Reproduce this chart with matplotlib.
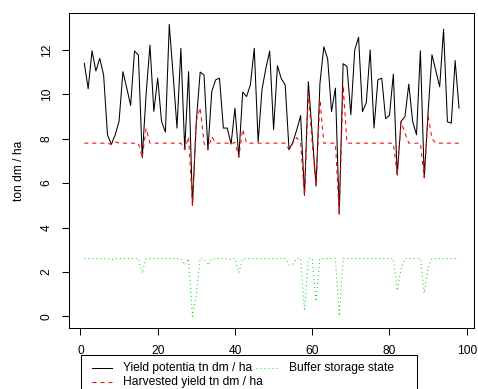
import matplotlib
matplotlib.use("Agg")
import matplotlib.pyplot as plt
from matplotlib.lines import Line2D
from matplotlib.patches import Rectangle

plt.rcParams['font.family'] = ['Liberation Sans', 'DejaVu Sans']
plt.rcParams['lines.scale_dashes'] = False

# ---- data ----
time_step = list(range(1, 99))

yield_potential = [
    11.40, 10.25, 11.96, 11.05, 11.62, 10.87, 8.18, 7.74, 8.18, 8.78,
    11.02, 10.28, 9.50, 11.95, 11.77, 7.14, 10.00, 12.22, 9.23, 10.73,
    8.78, 8.30, 13.15, 10.87, 8.48, 12.07, 7.51, 11.02, 5.00, 8.80,
    11.00, 10.87, 7.50, 10.13, 10.65, 10.73, 8.48, 8.48, 7.76, 9.38,
    7.17, 10.10, 9.90, 10.43, 12.07, 7.85, 10.21, 11.17, 11.95, 8.41,
    11.29, 10.70, 10.43, 7.51, 7.85, 8.40, 9.04, 5.45, 10.57, 8.20,
    5.87, 10.50, 12.14, 11.60, 9.22, 10.28, 4.60, 11.38, 11.26, 9.08,
    11.99, 12.57, 9.22, 9.62, 12.00, 8.48, 10.65, 10.73, 8.90, 9.06,
    10.91, 6.36, 8.78, 8.99, 10.46, 8.78, 8.18, 11.96, 6.24, 9.20,
    11.78, 11.06, 10.34, 12.93, 8.76, 8.70, 11.52, 9.38,
]

harvested_yield = [
    7.80, 7.80, 7.80, 7.80, 7.80, 7.80, 7.80, 7.74, 7.86, 7.80,
    7.80, 7.80, 7.80, 7.80, 7.80, 7.14, 8.46, 7.80, 7.80, 7.80,
    7.80, 7.80, 7.80, 7.80, 7.80, 7.80, 7.51, 8.09, 5.00, 8.80,
    9.40, 7.80, 7.50, 8.10, 7.80, 7.80, 7.80, 7.80, 7.76, 7.84,
    7.17, 8.43, 7.80, 7.80, 7.80, 7.80, 7.80, 7.80, 7.80, 7.80,
    7.80, 7.80, 7.80, 7.51, 7.80, 8.05, 7.80, 5.45, 10.05, 7.80,
    5.87, 9.75, 7.80, 7.80, 7.80, 7.80, 4.60, 10.40, 7.80, 7.80,
    7.80, 7.80, 7.80, 7.80, 7.80, 7.80, 7.80, 7.80, 7.80, 7.80,
    7.80, 6.36, 8.78, 8.26, 7.80, 7.80, 7.80, 7.80, 6.24, 9.05,
    8.00, 7.80, 7.80, 7.80, 7.80, 7.80, 7.80, 7.80,
]

buffer_state = [
    2.60, 2.60, 2.60, 2.60, 2.60, 2.60, 2.60, 2.54, 2.60, 2.60,
    2.60, 2.60, 2.60, 2.60, 2.60, 1.94, 2.60, 2.60, 2.60, 2.60,
    2.60, 2.60, 2.60, 2.60, 2.60, 2.60, 2.31, 2.60, 0.00, 1.00,
    2.60, 2.60, 2.30, 2.60, 2.60, 2.60, 2.60, 2.60, 2.56, 2.60,
    1.97, 2.60, 2.60, 2.60, 2.60, 2.60, 2.60, 2.60, 2.60, 2.60,
    2.60, 2.60, 2.60, 2.31, 2.35, 2.60, 2.60, 0.25, 2.60, 2.60,
    0.67, 2.60, 2.60, 2.60, 2.60, 2.60, 0.02, 2.60, 2.60, 2.60,
    2.60, 2.60, 2.60, 2.60, 2.60, 2.60, 2.60, 2.60, 2.60, 2.60,
    2.60, 1.16, 2.14, 2.60, 2.60, 2.60, 2.60, 2.60, 1.04, 2.20,
    2.60, 2.60, 2.60, 2.60, 2.60, 2.60, 2.60, 2.60,
]

x_ticks = [0, 20, 40, 60, 80, 100]
y_ticks = [0, 2, 4, 6, 8, 10, 12]
y_label = "ton dm / ha"
legend_labels = ["Yield potentia tn dm / ha", "Harvested yield tn dm / ha",
                 "Buffer storage state"]

# ---- figure ----
W, H = 478, 389
fig = plt.figure(figsize=(W / 100, H / 100), dpi=100)
ax_left, ax_right, ax_top, ax_bottom = 69.3, 474.0, 12.7, 328.0
ax = fig.add_axes([ax_left / W, 1 - ax_bottom / H,
                   (ax_right - ax_left) / W, (ax_bottom - ax_top) / H])

fs = 8.64
lw = 0.75
c_yield = "black"
c_harv = "#ff0000"
c_buf = "#00e000"
dash_red = (0, (2.88, 2.88))
dot_green = (0, (0.72, 2.16))

ax.plot(time_step, yield_potential, color=c_yield, lw=lw)
ax.plot(time_step, harvested_yield, color=c_harv, lw=lw, linestyle=dash_red)
ax.plot(time_step, buffer_state, color=c_buf, lw=lw, linestyle=dot_green)

n = len(time_step)
ext_x = (time_step[-1] - time_step[0]) * 0.04
ax.set_xlim(time_step[0] - ext_x, time_step[-1] + ext_x)
ymin = min(buffer_state)
ymax = max(yield_potential)
ext_y = (ymax - ymin) * 0.04
ax.set_ylim(ymin - ext_y, ymax + ext_y)

ax.set_xticks(x_ticks)
ax.set_yticks(y_ticks)
ax.set_xticklabels([str(t) for t in x_ticks])
ax.set_yticklabels([str(t) for t in y_ticks])
ax.tick_params(direction='out', length=5.2, width=lw, pad=6.7,
               labelsize=fs, colors='black')
for lbl in ax.get_yticklabels():
    lbl.set_rotation(90)
    lbl.set_va('center')
for sp in ax.spines.values():
    sp.set_linewidth(lw)
    sp.set_color('black')

ax.set_ylabel(y_label, fontsize=fs)
ax.yaxis.set_label_coords(-0.109, 0.5)

# ---- legend (R-style, partly below the figure edge) ----
def fx(px):
    return px / W

def fy(py):
    return 1 - py / H

box_l, box_r, box_t, box_b = 80.7, 416.7, 355.0, 396.0
fig.add_artist(Rectangle((fx(box_l), fy(box_b)), fx(box_r) - fx(box_l),
                         fy(box_t) - fy(box_b), transform=fig.transFigure,
                         fill=False, ec='black', lw=lw, clip_on=False))

rows = [368.3, 381.7]
entries = [
    (91.7, 111.7, 123.3, rows[0], c_yield, '-', legend_labels[0]),
    (91.7, 111.7, 123.3, rows[1], c_harv, dash_red, legend_labels[1]),
    (256.0, 276.7, 289.3, rows[0], c_buf, dot_green, legend_labels[2]),
]
for x0, x1, xt, yr, col, ls, lab in entries:
    fig.add_artist(Line2D([fx(x0), fx(x1)], [fy(yr), fy(yr)],
                          transform=fig.transFigure, color=col, lw=lw,
                          linestyle=ls))
    fig.text(fx(xt), fy(yr), lab, fontsize=fs, ha='left', va='center')

fig.savefig("out.png", dpi=100)
